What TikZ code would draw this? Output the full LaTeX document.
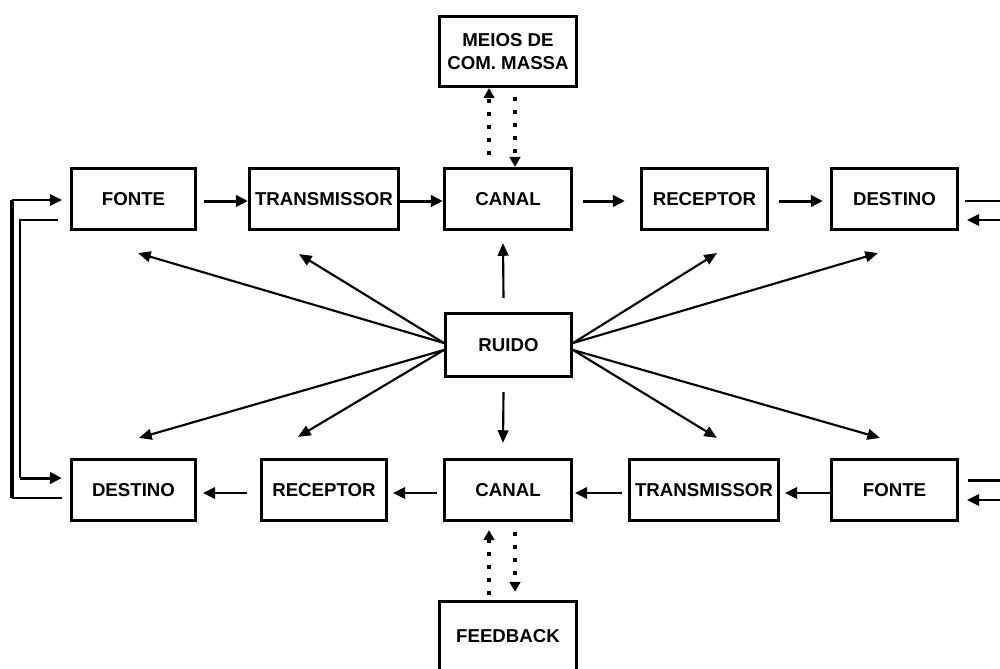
\documentclass[tikz,border=0pt]{standalone}
\usepackage{fontspec}
\setmainfont{Liberation Sans}
\usetikzlibrary{arrows.meta}
\begin{document}
\begin{tikzpicture}[x=0.75pt,y=-0.75pt,
  box/.style={draw, line width=2.4pt, rectangle, inner sep=0pt,
    minimum height=45.75pt, align=center,
    font=\fontsize{14}{17}\selectfont\bfseries},
  flow/.style={line width=2.25pt, -{Triangle[length=9pt,width=8.5pt]}},
  back/.style={line width=1.5pt, -{Triangle[length=9pt,width=8.5pt]}},
  noise/.style={line width=1.6pt, -{Triangle[length=9.5pt,width=8pt]}},
  dots/.style={line width=2.8pt, dash pattern=on 2.8pt off 7pt,
    -{Triangle[length=7.5pt,width=8pt]}},
  wire/.style={line width=1pt},
]
\clip (0,0) rectangle (1000,668);
\fill[white] (0,0) rectangle (1000,668);

% upper chain
\node[box, minimum width=93pt]     (fonteT) at (133.5,199) {FONTE};
\node[box, minimum width=111.75pt] (transT) at (324,199)   {TRANSMISSOR};
\node[box, minimum width=95.25pt]  (canalT) at (508,199)   {CANAL};
\node[box, minimum width=94.5pt]   (recT)   at (704.5,199) {RECEPTOR};
\node[box, minimum width=94.5pt]   (destT)  at (894.5,199) {DESTINO};

% lower chain
\node[box, minimum width=93pt]     (destB)  at (133.5,490) {DESTINO};
\node[box, minimum width=93.75pt]  (recB)   at (324,490)   {RECEPTOR};
\node[box, minimum width=95.25pt]  (canalB) at (508,490)   {CANAL};
\node[box, minimum width=111.75pt] (transB) at (704,490)   {TRANSMISSOR};
\node[box, minimum width=94.5pt]   (fonteB) at (894.5,490) {FONTE};

% centre and satellites
\node[box, minimum width=94.5pt, minimum height=47.25pt] (ruido) at (508.5,345) {RUIDO};
\node[box, minimum width=102.75pt, minimum height=52.5pt, font=\fontsize{14}{17.25}\selectfont\bfseries]
  (meios) at (508,51.5) {MEIOS DE\\COM. MASSA};
\node[box, minimum width=102.75pt, minimum height=52.5pt] (feed) at (508,636.5) {FEEDBACK};

% upper chain arrows
\draw[flow] ([shift={(7,2)}]fonteT.east) -- ([shift={(0,2)}]transT.west);
\draw[flow] ([shift={(0,2)}]transT.east) -- ([shift={(0,2)}]canalT.west);
\draw[flow] ([shift={(10,2)}]canalT.east) -- ([shift={(-15,2)}]recT.west);
\draw[flow] ([shift={(10,2)}]recT.east) -- ([shift={(-7,2)}]destT.west);

% lower chain arrows
\draw[back] ([shift={(0,3)}]fonteB.west) -- ([shift={(5,3)}]transB.east);
\draw[back] ([shift={(-6,3)}]transB.west) -- ([shift={(2,3)}]canalB.east);
\draw[back] ([shift={(-6,3)}]canalB.west) -- ([shift={(5,3)}]recB.east);
\draw[back] ([shift={(-13,3)}]recB.west) -- ([shift={(6,3)}]destB.east);

% left loop between the two chains
\coordinate (la) at (12,498);
\coordinate (lb) at (12,200);
\coordinate (lc) at (20,478);
\draw[wire] ([shift={(-8,8)}]destB.west) -- (la);
\draw[line width=2.8pt] (la) -- (lb);
\draw[back] (lb) -- ([shift={(-8,1)}]fonteT.west);
\draw[wire] ([shift={(-12,21)}]fonteT.west) -| (lc);
\draw[flow] (lc) -- ([shift={(-8,-12)}]destB.west);

% right ends leaving the chains
\draw[wire] ([shift={(6,2)}]destT.east) -- ++(45,0);
\draw[back] ([shift={(45,21)}]destT.east) -- ([shift={(8,21)}]destT.east);
\draw[line width=2.25pt] ([shift={(9,-10)}]fonteB.east) -- ++(45,0);
\draw[back] ([shift={(45,10)}]fonteB.east) -- ([shift={(8,10)}]fonteB.east);

% dotted exchanges
\draw[dots] ([shift={(-19,-12)}]canalT.north) -- ([shift={(-19,0)}]meios.south);
\draw[dots] ([shift={(7,9)}]meios.south) -- ([shift={(7,0)}]canalT.north);
\draw[dots] ([shift={(-19,-5)}]feed.north) -- ([shift={(-19,8)}]canalB.south);
\draw[dots] ([shift={(7,10)}]canalB.south) -- ([shift={(7,-8)}]feed.north);

% noise spreading to every block
\draw[noise] ([shift={(0,-2)}]ruido.west) -- ([shift={(4.5,22)}]fonteT.south);
\draw[noise] ([shift={(0,-2)}]ruido.west) -- ([shift={(-25,23)}]transT.south);
\draw[noise] ([shift={(0,-2)}]ruido.east) -- ([shift={(12.5,22)}]recT.south);
\draw[noise] ([shift={(0,-2)}]ruido.east) -- ([shift={(-16.5,22)}]destT.south);
\draw[noise] ([shift={(0,5)}]ruido.west) -- ([shift={(5.5,-20)}]destB.north);
\draw[noise] ([shift={(0,5)}]ruido.west) -- ([shift={(-26,-21)}]recB.north);
\draw[noise] ([shift={(0,5)}]ruido.east) -- ([shift={(13,-20)}]transB.north);
\draw[noise] ([shift={(0,5)}]ruido.east) -- ([shift={(-14.5,-20)}]fonteB.north);
\draw[noise] ([shift={(-5,-14)}]ruido.north) -- ([shift={(-5,12)}]canalT.south);
\draw[noise] ([shift={(-5,14)}]ruido.south) -- ([shift={(-5,-15)}]canalB.north);
\end{tikzpicture}
\end{document}
